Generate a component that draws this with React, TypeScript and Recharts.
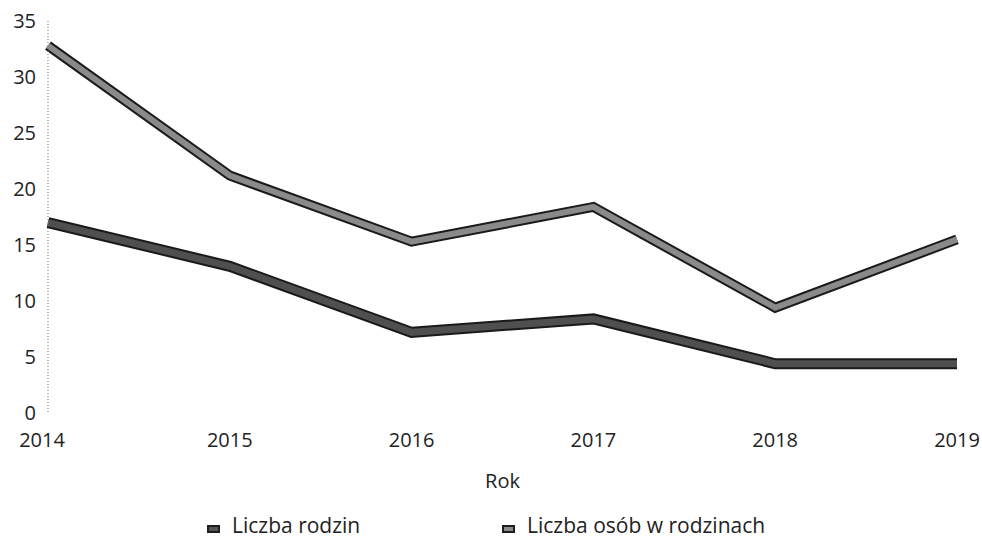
import React from "react";
import { LineChart, Line, XAxis, YAxis, Legend, Label } from "recharts";

const years = ["2014", "2015", "2016", "2017", "2018", "2019"];
const liczbaRodzin = [17.0, 13.1, 7.2, 8.4, 4.4, 4.4];
const liczbaOsob = [32.8, 21.2, 15.3, 18.4, 9.4, 15.5];
const yTicks = [0, 5, 10, 15, 20, 25, 30, 35];
const seriesNames = ["Liczba rodzin", "Liczba osób w rodzinach"];

const data = years.map((y, i) => ({ rok: y, rodziny: liczbaRodzin[i], osoby: liczbaOsob[i] }));

const FONT = "'Open Sans', 'Noto Sans', sans-serif";

const XTick = (props: any) => {
  const { x, y, payload, index } = props;
  const dx = index === 0 ? -6 : 0;
  return (
    <text x={x + dx} y={y} dy={34} textAnchor="middle" fontFamily={FONT} fontSize={20} fill="#222">
      {payload.value}
    </text>
  );
};

const LegendIcon = ({ inner }: { inner: string }) => (
  <svg width={13} height={8} style={{ display: "inline-block", verticalAlign: "baseline" }}>
    <rect x={0} y={0} width={13} height={8} fill="#1e1e1e" />
    <rect x={2} y={2} width={9} height={4} fill={inner} />
  </svg>
);

const CustomLegend = () => (
  <div style={{ position: "relative", width: 982, height: 30, fontFamily: FONT, fontSize: 21, color: "#222" }}>
    <div style={{ position: "absolute", left: 207, top: 0, whiteSpace: "nowrap" }}>
      <LegendIcon inner="#555555" />
      <span style={{ marginLeft: 12 }}>{seriesNames[0]}</span>
    </div>
    <div style={{ position: "absolute", left: 502, top: 0, whiteSpace: "nowrap" }}>
      <LegendIcon inner="#8a8a8a" />
      <span style={{ marginLeft: 12 }}>{seriesNames[1]}</span>
    </div>
  </div>
);

export default function App() {
  return (
    <div style={{ position: "absolute", left: 0, top: 0, background: "#fff" }}>
      <LineChart width={982} height={542} data={data} margin={{ top: 21, right: 25, left: 0, bottom: 39 }}>
        <XAxis
          dataKey="rok"
          axisLine={false}
          tickLine={false}
          tickSize={0}
          tickMargin={0}
          height={90}
          tick={<XTick />}
          interval={0}
        >
          <Label
            content={(p: any) => {
              const vb = p.viewBox;
              return (
                <text x={vb.x + vb.width / 2} y={488} textAnchor="middle" fontFamily={FONT} fontSize={20} fill="#222">
                  Rok
                </text>
              );
            }}
          />
        </XAxis>
        <YAxis
          width={48}
          domain={[0, 35]}
          ticks={yTicks}
          interval={0}
          tickLine={false}
          tickSize={0}
          tickMargin={12}
          axisLine={{ stroke: "#8a8a8a", strokeDasharray: "1 2", strokeWidth: 1.2 }}
          tick={{ fontFamily: FONT, fontSize: 20, fill: "#222" }}
        />
        <Legend
          layout="horizontal"
          verticalAlign="middle"
          content={<CustomLegend />}
          wrapperStyle={{ position: "absolute", top: 511, left: 0, width: 982 }}
        />
        <Line dataKey="osoby" type="linear" stroke="#1a1a1a" strokeWidth={10} strokeLinejoin="miter" strokeLinecap="butt" dot={false} activeDot={false} isAnimationActive={false} legendType="none" />
        <Line dataKey="osoby" type="linear" stroke="#8a8a8a" strokeWidth={6} strokeLinejoin="miter" strokeLinecap="butt" dot={false} activeDot={false} isAnimationActive={false} legendType="none" />
        <Line dataKey="rodziny" type="linear" stroke="#1a1a1a" strokeWidth={11} strokeLinejoin="miter" strokeLinecap="butt" dot={false} activeDot={false} isAnimationActive={false} legendType="none" />
        <Line dataKey="rodziny" type="linear" stroke="#4f4f4f" strokeWidth={7} strokeLinejoin="miter" strokeLinecap="butt" dot={false} activeDot={false} isAnimationActive={false} legendType="none" />
      </LineChart>
    </div>
  );
}
